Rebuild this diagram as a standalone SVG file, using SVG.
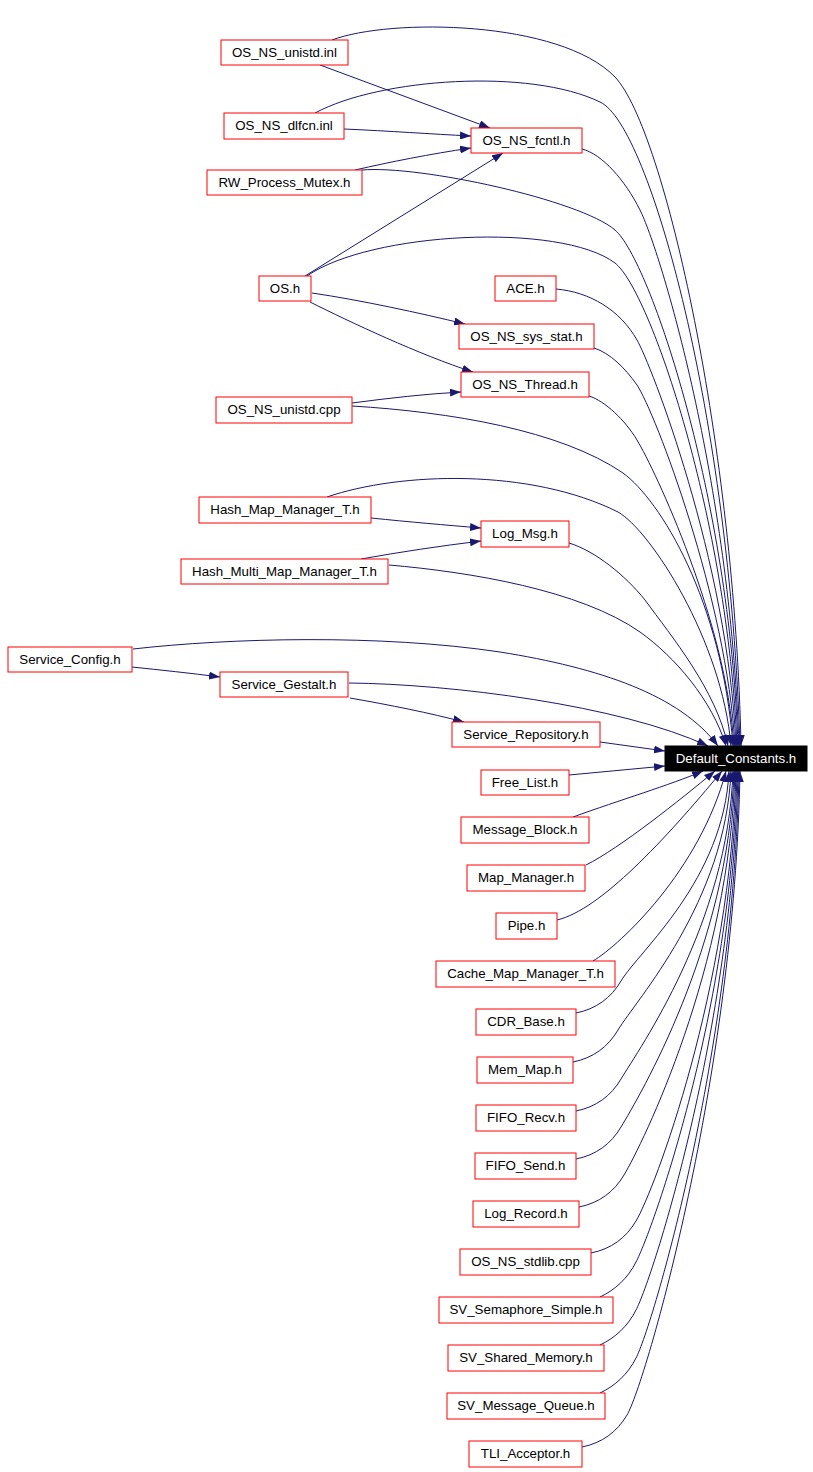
<svg xmlns="http://www.w3.org/2000/svg" width="813" height="1472" viewBox="0 0 813 1472">
<style>
.n rect{fill:#fff;stroke:#ff0000;stroke-width:1}
.n text{font-family:"Liberation Sans",Arial,sans-serif;font-size:13.3px;text-anchor:middle;fill:#000}
#n_default rect{fill:#000;stroke:#000}
#n_default text{fill:#fff}
.e path{fill:none;stroke:#191970;stroke-width:1;marker-end:url(#arr)}
</style>
<defs>
<marker id="arr" markerWidth="11" markerHeight="8" refX="11" refY="4" orient="auto" markerUnits="userSpaceOnUse"><path d="M0,0 L11,4 L0,8 z" fill="#191970"/></marker>
</defs>
<rect width="813" height="1472" fill="#fff"/>
<g id="edges" class="e">
<path d="M320,65 L490,128"/>
<path d="M344,129 C390,131 430,134 471,136"/>
<path d="M355,170 C390,162 430,154 471,148"/>
<path d="M305,276 L503,153"/>
<path d="M312,293 C360,300 420,313 465,324"/>
<path d="M310,302 C350,322 420,355 473,372"/>
<path d="M352,403 C390,398 425,394 461,392"/>
<path d="M371,518 C410,522 445,525 481,528"/>
<path d="M361,559 C400,552 440,546 481,541"/>
<path d="M132,667 C160,670 190,673 220,677"/>
<path d="M350,698 C390,705 430,713 464,722"/>
<path d="M600,742 L665,751"/>
<path d="M569,775 L665,766"/>
<path d="M332,40 C390,18 560,20 615,77 C665,130 735,450 741,746"/>
<path d="M315,113 C380,78 530,68 600,102 C650,125 730,420 740,746"/>
<path d="M362,170 C420,165 580,200 615,230 C650,260 730,500 738,746"/>
<path d="M307,276 C370,232 560,222 615,263 C650,290 728,520 737,746"/>
<path d="M582,149 C602,154 625,180 640,210 C660,250 730,480 739,746"/>
<path d="M556,289 C590,292 620,310 637,340 C650,362 728,560 736,746"/>
<path d="M594,348 C610,353 625,368 637,385 C655,412 727,600 735,746"/>
<path d="M589,396 C605,401 625,420 637,440 C655,470 726,620 734,746"/>
<path d="M352,406 C450,412 560,430 623,473 C660,500 722,600 733,746"/>
<path d="M327,497 C400,472 530,468 618,512 C650,530 722,640 731,746"/>
<path d="M569,543 C595,551 625,575 645,600 C672,637 716,690 728,746"/>
<path d="M389,565 C470,572 580,590 640,632 C675,657 712,700 726,746"/>
<path d="M133,649 C230,638 380,634 500,652 C600,668 680,695 718,746"/>
<path d="M349,683 C450,684 620,705 708,746"/>
<path d="M573,817 C620,800 670,785 703,771"/>
<path d="M586,865 C620,848 680,800 715,771"/>
<path d="M557,920 C600,910 665,840 722,771"/>
<path d="M593,961 C620,945 700,870 726,771"/>
<path d="M576,1013 C596,1009 611,998 621,981 C639,951 724,880 729,771"/>
<path d="M573,1062 C593,1058 608,1047 618,1030 C636,1000 726,902 731,771"/>
<path d="M576,1111 C596,1107 611,1096 621,1079 C639,1049 728,924 733,771"/>
<path d="M576,1159 C596,1155 611,1144 621,1127 C639,1097 729,946 734,771"/>
<path d="M579,1207 C599,1203 614,1192 624,1175 C642,1145 730,967 735,771"/>
<path d="M591,1253 C611,1249 626,1238 636,1221 C654,1191 731,988 736,771"/>
<path d="M600,1297 C615,1290 628,1278 636,1262 C652,1232 732,1008 737,771"/>
<path d="M600,1345 C615,1338 628,1326 636,1310 C652,1280 733,1029 738,771"/>
<path d="M600,1393 C615,1386 628,1374 636,1358 C652,1328 734,1051 739,771"/>
<path d="M582,1447 C602,1443 617,1432 627,1415 C645,1385 735,1075 740,771"/>
</g>
<g id="n_unistd_inl" class="n"><rect x="221" y="40" width="127" height="25"/><text x="284.5" y="57">OS_NS_unistd.inl</text></g>
<g id="n_dlfcn_inl" class="n"><rect x="224" y="113" width="120" height="26"/><text x="284" y="130">OS_NS_dlfcn.inl</text></g>
<g id="n_rw_process_mutex" class="n"><rect x="207" y="170" width="155" height="25"/><text x="284.5" y="187">RW_Process_Mutex.h</text></g>
<g id="n_os" class="n"><rect x="259" y="276" width="52" height="25"/><text x="285" y="293">OS.h</text></g>
<g id="n_unistd_cpp" class="n"><rect x="216" y="397" width="136" height="26"/><text x="284" y="414">OS_NS_unistd.cpp</text></g>
<g id="n_hash_map" class="n"><rect x="199" y="497" width="172" height="26"/><text x="285" y="514">Hash_Map_Manager_T.h</text></g>
<g id="n_hash_multi" class="n"><rect x="181" y="559" width="207" height="25"/><text x="284.5" y="576">Hash_Multi_Map_Manager_T.h</text></g>
<g id="n_service_config" class="n"><rect x="8" y="647" width="124" height="25"/><text x="70" y="664">Service_Config.h</text></g>
<g id="n_service_gestalt" class="n"><rect x="220" y="672" width="128" height="25"/><text x="284" y="689">Service_Gestalt.h</text></g>
<g id="n_fcntl" class="n"><rect x="471" y="128" width="111" height="25"/><text x="526.5" y="145">OS_NS_fcntl.h</text></g>
<g id="n_ace" class="n"><rect x="495" y="276" width="61" height="25"/><text x="525.5" y="293">ACE.h</text></g>
<g id="n_sys_stat" class="n"><rect x="459" y="324" width="135" height="25"/><text x="526.5" y="341">OS_NS_sys_stat.h</text></g>
<g id="n_thread" class="n"><rect x="461" y="372" width="128" height="25"/><text x="525" y="389">OS_NS_Thread.h</text></g>
<g id="n_log_msg" class="n"><rect x="481" y="521" width="88" height="26"/><text x="525" y="538">Log_Msg.h</text></g>
<g id="n_service_repository" class="n"><rect x="452" y="722" width="148" height="25"/><text x="526" y="739">Service_Repository.h</text></g>
<g id="n_default" class="n"><rect x="665" y="746" width="142" height="25"/><text x="736" y="763">Default_Constants.h</text></g>
<g id="n_free_list" class="n"><rect x="481" y="770" width="88" height="25"/><text x="525" y="787">Free_List.h</text></g>
<g id="n_message_block" class="n"><rect x="461" y="817" width="128" height="26"/><text x="525" y="834">Message_Block.h</text></g>
<g id="n_map_manager" class="n"><rect x="467" y="865" width="118" height="26"/><text x="526" y="882">Map_Manager.h</text></g>
<g id="n_pipe" class="n"><rect x="496" y="913" width="61" height="26"/><text x="526.5" y="930">Pipe.h</text></g>
<g id="n_cache_map" class="n"><rect x="436" y="961" width="179" height="26"/><text x="525.5" y="978">Cache_Map_Manager_T.h</text></g>
<g id="n_cdr_base" class="n"><rect x="476" y="1009" width="100" height="26"/><text x="526" y="1026">CDR_Base.h</text></g>
<g id="n_mem_map" class="n"><rect x="477" y="1057" width="96" height="26"/><text x="525" y="1074">Mem_Map.h</text></g>
<g id="n_fifo_recv" class="n"><rect x="476" y="1105" width="100" height="26"/><text x="526" y="1122">FIFO_Recv.h</text></g>
<g id="n_fifo_send" class="n"><rect x="475" y="1153" width="101" height="26"/><text x="525.5" y="1170">FIFO_Send.h</text></g>
<g id="n_log_record" class="n"><rect x="473" y="1201" width="106" height="26"/><text x="526" y="1218">Log_Record.h</text></g>
<g id="n_stdlib" class="n"><rect x="460" y="1249" width="131" height="26"/><text x="525.5" y="1266">OS_NS_stdlib.cpp</text></g>
<g id="n_sv_sem" class="n"><rect x="439" y="1297" width="174" height="26"/><text x="526" y="1314">SV_Semaphore_Simple.h</text></g>
<g id="n_sv_shm" class="n"><rect x="448" y="1345" width="156" height="26"/><text x="526" y="1362">SV_Shared_Memory.h</text></g>
<g id="n_sv_mq" class="n"><rect x="447" y="1393" width="158" height="26"/><text x="526" y="1410">SV_Message_Queue.h</text></g>
<g id="n_tli" class="n"><rect x="469" y="1441" width="113" height="26"/><text x="525.5" y="1458">TLI_Acceptor.h</text></g>
</svg>
